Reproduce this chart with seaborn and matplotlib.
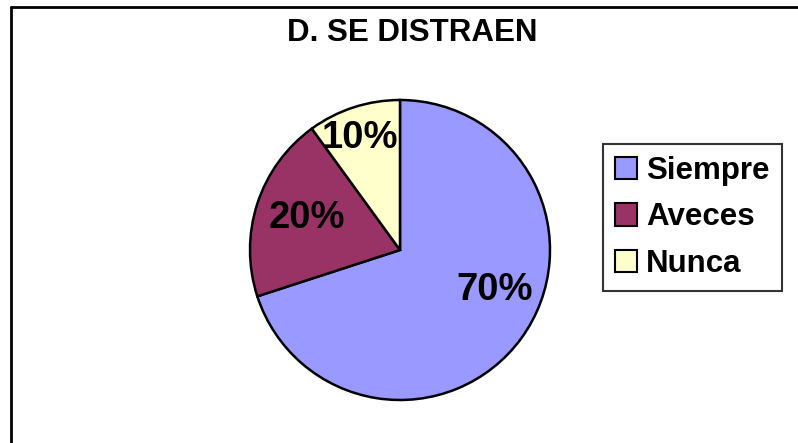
import matplotlib
matplotlib.use("Agg")
import matplotlib.pyplot as plt
import seaborn as sns
from matplotlib.lines import Line2D

# data
labels = ["Siempre", "Aveces", "Nunca"]
values = [70, 20, 10]
pct_text = ["70%", "20%", "10%"]
colors = ["#9999FF", "#993366", "#FFFFCC"]
# where Excel put the percent labels (pie radius units)
label_pos = [(0.63, -0.27), (-0.62, 0.21), (-0.27, 0.75)]

sns.set_style("white")
plt.rcParams["font.family"] = ["Liberation Sans", "DejaVu Sans"]
plt.rcParams["text.color"] = "black"
palette = sns.color_palette(colors)

W, H = 798, 443
fig = plt.figure(figsize=(W / 100, H / 100), dpi=100)

# pie area: centre (400, 250) px, radius 150 px
ax = fig.add_axes([250 / W, (H - 400) / H, 300 / W, 300 / H])
wedges, _ = ax.pie(values, colors=palette, startangle=90, counterclock=False,
				   wedgeprops=dict(edgecolor="black", linewidth=1.8))
ax.set_xlim(-1, 1)
ax.set_ylim(-1, 1)
ax.set_aspect("equal")
ax.axis("off")

for (x, y), t in zip(label_pos, pct_text):
	ax.text(x, y, t, ha="center", va="center", fontsize=27.5, fontweight="bold", color="black")

fig.text(412 / W, 1 - 33 / H, "D. SE DISTRAEN", ha="center", va="center",
		 fontsize=22.5, fontweight="bold", color="black")

leg = fig.legend(wedges, labels, loc="upper left", bbox_to_anchor=(603 / W, 1 - 144 / H),
				 prop=dict(size=22.5, weight="bold"), frameon=True, fancybox=False,
				 handlelength=0.72, handleheight=0.72, handletextpad=0.28,
				 labelspacing=0.53, borderpad=0.38, borderaxespad=0)
leg.get_frame().set_edgecolor("black")
leg.get_frame().set_linewidth(1.5)
for p in leg.get_patches():
	p.set_edgecolor("black")
	p.set_linewidth(1.5)
for t in leg.get_texts():
	t.set_color("black")

# outer chart border (only left and top visible in the crop)
fig.add_artist(Line2D([11 / W, 11 / W], [0, 1 - 7 / H], color="black", linewidth=2, transform=fig.transFigure))
fig.add_artist(Line2D([11 / W, 1], [1 - 7 / H, 1 - 7 / H], color="black", linewidth=2, transform=fig.transFigure))

fig.savefig("out.png", dpi=100)
